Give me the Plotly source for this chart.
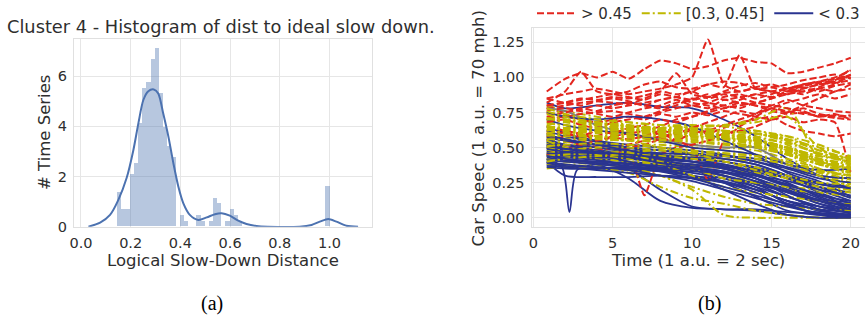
import plotly.graph_objects as go

# ---------------- panel (a): histogram + KDE ----------------
HIST_BIN_START = 0.146
HIST_BIN_WIDTH = 0.01675
HIST_DENSITY = [1.38, 0.69, 0.69, 2.07, 2.52, 4.12, 5.51, 5.74, 6.67, 7.12,
                5.30, 3.95, 3.21, 2.75, 0.0, 0.46, 0.23, 0.0, 0.0, 0.46,
                0.23, 0.0, 0.23, 1.15, 0.92, 0.0, 0.23, 0.69, 0.46, 0.23,
                0.0, 0.0, 0.0, 0.0, 0.0, 0.0, 0.0, 0.0, 0.0, 0.0,
                0.0, 0.0, 0.0, 0.0, 0.0, 0.0, 0.0, 0.0, 0.0, 0.0, 1.61]
KDE_X = [0.03, 0.077, 0.117, 0.15, 0.184, 0.211, 0.231, 0.251, 0.271, 0.293, 0.311,
         0.331, 0.352, 0.372, 0.392, 0.412, 0.438, 0.472, 0.506, 0.539, 0.566, 0.599,
         0.633, 0.666, 0.706, 0.75, 0.88, 0.928, 0.961, 0.995, 1.028, 1.068, 1.115]
KDE_Y = [0.0, 0.16, 0.47, 1.06, 1.95, 3.06, 4.12, 5.05, 5.40, 5.47, 5.31,
         4.51, 3.58, 2.52, 1.59, 0.93, 0.47, 0.27, 0.37, 0.50, 0.54, 0.44,
         0.24, 0.11, 0.03, 0.0, 0.0, 0.07, 0.20, 0.31, 0.20, 0.04, 0.0]
A_XTICKS = [0.0, 0.2, 0.4, 0.6, 0.8, 1.0]
A_XTICKTEXT = ["0.0", "0.2", "0.4", "0.6", "0.8", "1.0"]
A_YTICKS = [0, 2, 4, 6]

# ---------------- panel (b): speed time series ----------------
T_RED = [0.84, 2, 3, 4, 5, 6, 7, 8, 9, 10, 11, 12, 13, 14, 15, 16, 17, 18, 19, 20]
RED_SERIES = [
    [0.90, 0.99, 1.03, 1.00, 1.04, 0.99, 1.06, 1.12, 1.10, 1.06, 1.08, 1.12, 1.14, 1.11, 1.10, 1.03, 1.04, 1.07, 1.10, 1.14],
    [0.85, 0.88, 0.90, 0.92, 0.90, 0.88, 0.90, 0.92, 0.95, 1.00, 1.27, 0.95, 0.90, 0.93, 0.95, 0.92, 0.95, 0.97, 1.00, 1.05],
    [0.80, 0.82, 0.85, 0.84, 0.86, 0.85, 0.87, 0.90, 0.88, 0.90, 0.95, 0.93, 1.16, 0.92, 0.93, 0.90, 0.92, 0.95, 0.97, 1.00],
    [0.78, 0.80, 0.82, 0.83, 0.82, 0.81, 0.85, 0.90, 1.03, 0.88, 0.86, 0.89, 0.90, 0.92, 0.90, 0.88, 0.92, 0.95, 0.96, 0.98],
    [0.82, 0.90, 1.04, 0.90, 0.88, 0.90, 0.95, 0.97, 0.93, 0.92, 0.95, 0.97, 0.96, 0.92, 0.90, 0.92, 0.95, 0.97, 0.99, 1.00],
    [0.78, 0.75, 0.77, 0.80, 0.78, 0.80, 0.82, 0.84, 0.86, 0.82, 0.80, 0.78, 0.82, 0.80, 0.76, 0.74, 0.75, 0.72, 0.73, 0.72],
    [0.75, 0.72, 0.74, 0.75, 0.76, 0.74, 0.72, 0.75, 0.78, 0.80, 0.78, 0.84, 0.82, 0.80, 0.78, 0.75, 0.78, 0.74, 0.72, 0.73],
    [0.80, 0.82, 0.80, 0.83, 0.85, 0.83, 0.80, 0.84, 0.86, 0.90, 0.85, 0.88, 0.86, 0.82, 0.85, 0.90, 0.88, 0.92, 0.90, 0.95],
    [0.72, 0.75, 0.78, 0.76, 0.80, 0.82, 0.80, 0.78, 0.82, 0.84, 0.88, 0.84, 0.86, 0.88, 0.90, 0.92, 0.93, 0.90, 0.94, 0.96],
    [0.70, 0.72, 0.70, 0.68, 0.70, 0.72, 0.70, 0.74, 0.72, 0.75, 0.73, 0.76, 0.74, 0.72, 0.70, 0.72, 0.68, 0.70, 0.68, 0.32],
    [0.60, 0.62, 0.55, 0.50, 0.52, 0.48, 0.16, 0.45, 0.50, 0.52, 0.55, 0.60, 0.62, 0.65, 0.70, 0.75, 0.80, 0.85, 0.90, 0.92],
    [0.65, 0.62, 0.60, 0.58, 0.62, 0.60, 0.58, 0.60, 0.55, 0.50, 0.27, 0.55, 0.65, 0.72, 0.78, 0.82, 0.85, 0.88, 0.85, 0.88],
    [0.55, 0.58, 0.60, 0.55, 0.58, 0.60, 0.62, 0.65, 0.70, 0.72, 0.75, 0.78, 0.80, 0.82, 0.85, 0.88, 0.90, 0.92, 0.95, 1.02],
    [0.68, 0.70, 0.66, 0.64, 0.68, 0.70, 0.72, 0.76, 0.80, 0.85, 0.82, 0.80, 0.84, 0.88, 0.86, 0.90, 0.94, 0.96, 0.98, 1.06],
    [0.50, 0.52, 0.50, 0.48, 0.50, 0.52, 0.55, 0.58, 0.60, 0.62, 0.60, 0.64, 0.68, 0.70, 0.72, 0.66, 0.62, 0.60, 0.58, 0.60],
    [0.62, 0.60, 0.58, 0.62, 0.60, 0.64, 0.66, 0.70, 0.68, 0.72, 0.76, 0.80, 0.78, 0.82, 0.80, 0.84, 0.80, 0.78, 0.76, 0.75],
    [0.85, 0.82, 0.84, 0.86, 0.88, 0.86, 0.84, 0.88, 0.86, 0.84, 0.86, 0.90, 0.94, 0.96, 0.93, 0.95, 0.98, 1.00, 1.02, 0.99],
    [0.45, 0.50, 0.48, 0.46, 0.44, 0.50, 0.52, 0.56, 0.55, 0.60, 0.62, 0.66, 0.70, 0.74, 0.80, 0.78, 0.76, 0.72, 0.74, 0.70],
    [0.76, 0.78, 0.76, 0.74, 0.72, 0.75, 0.78, 0.80, 0.84, 0.80, 0.82, 0.86, 0.88, 0.85, 0.88, 0.92, 0.90, 0.93, 0.98, 1.02],
    [0.58, 0.55, 0.52, 0.55, 0.57, 0.56, 0.58, 0.62, 0.60, 0.64, 0.68, 0.72, 0.76, 0.74, 0.78, 0.76, 0.74, 0.73, 0.71, 0.70],
]

T_COARSE = [0.84, 2, 4, 6, 8, 10, 12, 14, 16, 18, 20]
YELLOW_SERIES = [
    [0.80, 0.76, 0.72, 0.68, 0.66, 0.64, 0.62, 0.60, 0.55, 0.45, 0.40],
    [0.75, 0.73, 0.70, 0.66, 0.62, 0.60, 0.58, 0.55, 0.50, 0.42, 0.38],
    [0.72, 0.70, 0.66, 0.64, 0.63, 0.62, 0.60, 0.58, 0.52, 0.40, 0.35],
    [0.70, 0.68, 0.65, 0.62, 0.60, 0.58, 0.55, 0.50, 0.45, 0.38, 0.32],
    [0.68, 0.66, 0.62, 0.60, 0.60, 0.60, 0.60, 0.62, 0.56, 0.48, 0.42],
    [0.65, 0.64, 0.62, 0.61, 0.60, 0.58, 0.56, 0.52, 0.45, 0.35, 0.30],
    [0.62, 0.62, 0.60, 0.58, 0.57, 0.56, 0.55, 0.55, 0.50, 0.42, 0.36],
    [0.60, 0.58, 0.56, 0.55, 0.54, 0.52, 0.50, 0.48, 0.42, 0.35, 0.28],
    [0.58, 0.56, 0.55, 0.56, 0.58, 0.58, 0.56, 0.52, 0.46, 0.38, 0.33],
    [0.55, 0.55, 0.53, 0.52, 0.52, 0.50, 0.48, 0.45, 0.40, 0.32, 0.25],
    [0.52, 0.52, 0.50, 0.48, 0.46, 0.44, 0.42, 0.40, 0.35, 0.30, 0.24],
    [0.50, 0.50, 0.48, 0.46, 0.45, 0.45, 0.45, 0.42, 0.38, 0.33, 0.30],
    [0.48, 0.46, 0.45, 0.42, 0.40, 0.38, 0.35, 0.32, 0.28, 0.24, 0.20],
    [0.45, 0.44, 0.42, 0.40, 0.38, 0.34, 0.30, 0.25, 0.20, 0.18, 0.15],
    [0.42, 0.40, 0.38, 0.36, 0.30, 0.22, 0.15, 0.10, 0.08, 0.06, 0.05],
    [0.38, 0.38, 0.36, 0.34, 0.30, 0.20, 0.02, 0.00, 0.00, 0.00, 0.00],
    [0.35, 0.36, 0.35, 0.32, 0.22, 0.14, 0.10, 0.05, 0.02, 0.00, 0.00],
    [0.60, 0.60, 0.62, 0.60, 0.62, 0.64, 0.66, 0.70, 0.78, 0.42, 0.30],
    [0.65, 0.64, 0.63, 0.62, 0.64, 0.65, 0.66, 0.68, 0.72, 0.50, 0.38],
    [0.78, 0.74, 0.70, 0.68, 0.66, 0.66, 0.65, 0.62, 0.58, 0.48, 0.42],
    [0.57, 0.60, 0.62, 0.62, 0.60, 0.60, 0.58, 0.56, 0.50, 0.44, 0.40],
    [0.63, 0.60, 0.58, 0.60, 0.62, 0.62, 0.60, 0.56, 0.48, 0.40, 0.35],
    [0.53, 0.54, 0.56, 0.55, 0.55, 0.54, 0.52, 0.50, 0.45, 0.38, 0.32],
    [0.46, 0.48, 0.50, 0.50, 0.48, 0.46, 0.44, 0.42, 0.38, 0.30, 0.22],
    [0.67, 0.66, 0.64, 0.63, 0.62, 0.60, 0.57, 0.53, 0.47, 0.40, 0.36],
    [0.74, 0.70, 0.66, 0.63, 0.61, 0.59, 0.57, 0.55, 0.50, 0.44, 0.43],
    [0.50, 0.48, 0.45, 0.42, 0.38, 0.30, 0.22, 0.18, 0.15, 0.12, 0.10],
    [0.55, 0.50, 0.47, 0.45, 0.40, 0.35, 0.28, 0.25, 0.22, 0.20, 0.18],
    [0.44, 0.45, 0.46, 0.47, 0.48, 0.47, 0.46, 0.44, 0.40, 0.34, 0.30],
    [0.60, 0.62, 0.64, 0.64, 0.63, 0.62, 0.61, 0.60, 0.54, 0.46, 0.42],
    [0.70, 0.70, 0.68, 0.66, 0.64, 0.63, 0.62, 0.60, 0.56, 0.50, 0.44],
    [0.56, 0.56, 0.57, 0.58, 0.59, 0.58, 0.57, 0.54, 0.48, 0.40, 0.35],
    [0.66, 0.62, 0.58, 0.55, 0.50, 0.46, 0.40, 0.34, 0.28, 0.22, 0.20],
    [0.40, 0.42, 0.44, 0.45, 0.44, 0.42, 0.40, 0.36, 0.30, 0.25, 0.24],
    [0.62, 0.64, 0.66, 0.65, 0.64, 0.64, 0.62, 0.60, 0.58, 0.52, 0.43],
    [0.71, 0.69, 0.67, 0.65, 0.64, 0.62, 0.59, 0.56, 0.50, 0.42, 0.39],
    [0.64, 0.63, 0.61, 0.59, 0.58, 0.57, 0.56, 0.54, 0.49, 0.41, 0.37],
    [0.59, 0.58, 0.58, 0.57, 0.56, 0.55, 0.53, 0.51, 0.46, 0.39, 0.34],
    [0.76, 0.72, 0.68, 0.65, 0.63, 0.61, 0.59, 0.57, 0.53, 0.46, 0.41],
    [0.51, 0.52, 0.53, 0.52, 0.50, 0.48, 0.46, 0.44, 0.40, 0.33, 0.27],
]
BLUE_SERIES = [
    [0.82, 0.78, 0.80, 0.82, 0.79, 0.78, 0.70, 0.58, 0.42, 0.30, 0.20],
    [0.40, 0.30, 0.29, 0.29, 0.30, 0.29, 0.28, 0.20, 0.12, 0.05, 0.02],
    [0.45, 0.42, 0.38, 0.28, 0.12, 0.07, 0.06, 0.06, 0.04, 0.03, 0.02],
    [0.50, 0.45, 0.42, 0.35, 0.20, 0.08, 0.06, 0.05, 0.02, 0.00, 0.00],
    [0.55, 0.50, 0.48, 0.45, 0.42, 0.35, 0.25, 0.15, 0.05, 0.02, 0.00],
    [0.60, 0.55, 0.52, 0.50, 0.48, 0.45, 0.42, 0.38, 0.30, 0.20, 0.12],
    [0.58, 0.55, 0.50, 0.47, 0.45, 0.42, 0.38, 0.32, 0.22, 0.12, 0.05],
    [0.52, 0.50, 0.48, 0.46, 0.44, 0.42, 0.40, 0.35, 0.28, 0.18, 0.10],
    [0.48, 0.46, 0.45, 0.43, 0.41, 0.40, 0.38, 0.33, 0.25, 0.15, 0.08],
    [0.45, 0.44, 0.42, 0.40, 0.38, 0.36, 0.33, 0.28, 0.20, 0.10, 0.04],
    [0.42, 0.40, 0.40, 0.39, 0.38, 0.37, 0.35, 0.30, 0.22, 0.14, 0.06],
    [0.38, 0.36, 0.35, 0.34, 0.33, 0.30, 0.26, 0.20, 0.12, 0.05, 0.02],
    [0.65, 0.60, 0.55, 0.52, 0.50, 0.48, 0.45, 0.40, 0.35, 0.28, 0.25],
    [0.70, 0.66, 0.62, 0.60, 0.55, 0.50, 0.48, 0.45, 0.38, 0.34, 0.35],
    [0.75, 0.72, 0.70, 0.72, 0.70, 0.65, 0.55, 0.45, 0.32, 0.25, 0.22],
    [0.56, 0.52, 0.48, 0.45, 0.40, 0.35, 0.30, 0.24, 0.18, 0.10, 0.06],
    [0.44, 0.43, 0.41, 0.38, 0.36, 0.34, 0.30, 0.22, 0.10, 0.02, 0.00],
    [0.47, 0.46, 0.44, 0.42, 0.40, 0.38, 0.36, 0.34, 0.28, 0.22, 0.18],
    [0.53, 0.52, 0.50, 0.48, 0.46, 0.45, 0.44, 0.40, 0.33, 0.26, 0.15],
    [0.62, 0.58, 0.54, 0.50, 0.45, 0.40, 0.35, 0.28, 0.20, 0.12, 0.08],
    [0.40, 0.38, 0.36, 0.34, 0.30, 0.26, 0.20, 0.14, 0.08, 0.04, 0.10],
    [0.36, 0.35, 0.35, 0.36, 0.35, 0.34, 0.30, 0.24, 0.15, 0.08, 0.03],
    [0.57, 0.55, 0.52, 0.50, 0.48, 0.46, 0.44, 0.42, 0.36, 0.30, 0.28],
    [0.50, 0.48, 0.45, 0.40, 0.35, 0.30, 0.20, 0.10, 0.02, 0.00, 0.00],
    [0.43, 0.41, 0.39, 0.37, 0.35, 0.32, 0.28, 0.22, 0.15, 0.08, 0.03],
    [0.46, 0.45, 0.43, 0.42, 0.40, 0.38, 0.35, 0.30, 0.24, 0.16, 0.12],
    [0.54, 0.50, 0.47, 0.44, 0.42, 0.40, 0.36, 0.28, 0.16, 0.06, 0.01],
    [0.39, 0.37, 0.36, 0.35, 0.34, 0.33, 0.32, 0.30, 0.26, 0.20, 0.16],
    [0.49, 0.47, 0.46, 0.45, 0.44, 0.43, 0.42, 0.38, 0.30, 0.22, 0.14],
    [0.41, 0.40, 0.38, 0.36, 0.33, 0.28, 0.22, 0.16, 0.10, 0.06, 0.04],
    [0.52, 0.49, 0.46, 0.43, 0.39, 0.36, 0.33, 0.26, 0.18, 0.12, 0.09],
    [0.37, 0.36, 0.34, 0.32, 0.30, 0.28, 0.25, 0.18, 0.09, 0.03, 0.01],
    [0.59, 0.56, 0.52, 0.48, 0.44, 0.42, 0.40, 0.36, 0.30, 0.24, 0.21],
    [0.44, 0.42, 0.40, 0.38, 0.37, 0.35, 0.32, 0.26, 0.19, 0.13, 0.11],
    [0.51, 0.49, 0.47, 0.45, 0.43, 0.40, 0.37, 0.31, 0.23, 0.17, 0.07],
]
BLUE_DIP_T = [0.84, 1.8, 2.27, 2.75, 4, 6, 8, 10, 12, 14, 16, 18, 20]
BLUE_DIP_Y = [0.42, 0.36, 0.04, 0.34, 0.38, 0.36, 0.34, 0.30, 0.25, 0.20, 0.12, 0.08, 0.05]
GRAY_SERIES = [
    [0.78, 0.76, 0.66, 0.60, 0.56, 0.52, 0.50, 0.50, 0.38, 0.30, 0.28],
]
B_XTICKS = [0, 5, 10, 15, 20]
B_YTICKS = [0.0, 0.25, 0.5, 0.75, 1.0, 1.25]
B_YTICKTEXT = ["0.00", "0.25", "0.50", "0.75", "1.00", "1.25"]
LEGEND_LABELS = ["> 0.45", "[0.3, 0.45]", "< 0.3"]

# ---------------- styling ----------------
W, H = 865, 321
TXT = "#2e2e2e"
GRID = "#e6e6e6"
FRAME = "#e0e0e0"
RED, YEL, BLU, GRY = "#e3261f", "#bfb800", "#2a3490", "#7f7f7f"
FONT = "DejaVu Sans"


def fx(p):
    return p / W


def fy(p):
    return 1 - p / H


fig = go.Figure()

# panel (a)
bin_centers = [HIST_BIN_START + (i + 0.5) * HIST_BIN_WIDTH for i in range(len(HIST_DENSITY))]
fig.add_trace(go.Bar(x=bin_centers, y=HIST_DENSITY, width=HIST_BIN_WIDTH,
                     marker=dict(color="rgba(76,114,176,0.4)", line=dict(width=0)),
                     showlegend=False, xaxis="x", yaxis="y", hoverinfo="skip"))
fig.add_trace(go.Scatter(x=KDE_X, y=KDE_Y, mode="lines",
                         line=dict(color="#4c72b0", width=2, shape="spline", smoothing=0.8),
                         showlegend=False, xaxis="x", yaxis="y"))

# panel (b)
RED_DASH = "7px,3px"
YEL_DASH = "8px,3px,2px,3px"
n = max(len(RED_SERIES), len(YELLOW_SERIES), len(BLUE_SERIES))
for i in range(n):
    if i < len(YELLOW_SERIES):
        fig.add_trace(go.Scatter(x=T_COARSE, y=YELLOW_SERIES[i], mode="lines",
                                 line=dict(color=YEL, width=2, dash=YEL_DASH, shape="spline", smoothing=0.8),
                                 name=LEGEND_LABELS[1], legendgroup="y", legendrank=2,
                                 showlegend=(i == 0), xaxis="x2", yaxis="y2"))
    if i < len(BLUE_SERIES):
        fig.add_trace(go.Scatter(x=T_COARSE, y=BLUE_SERIES[i], mode="lines",
                                 line=dict(color=BLU, width=1.8, shape="spline", smoothing=0.8),
                                 name=LEGEND_LABELS[2], legendgroup="b", legendrank=3,
                                 showlegend=(i == 0), xaxis="x2", yaxis="y2"))
    if i == 8:
        fig.add_trace(go.Scatter(x=BLUE_DIP_T, y=BLUE_DIP_Y, mode="lines",
                                 line=dict(color=BLU, width=1.8, shape="spline", smoothing=0.8),
                                 name=LEGEND_LABELS[2], legendgroup="b", showlegend=False,
                                 xaxis="x2", yaxis="y2"))
        for g in GRAY_SERIES:
            fig.add_trace(go.Scatter(x=T_COARSE, y=g, mode="lines",
                                     line=dict(color=GRY, width=2, shape="spline", smoothing=0.8),
                                     showlegend=False, xaxis="x2", yaxis="y2"))
    if i < len(RED_SERIES):
        fig.add_trace(go.Scatter(x=T_RED, y=RED_SERIES[i], mode="lines",
                                 line=dict(color=RED, width=2, dash=RED_DASH, shape="spline", smoothing=0.5),
                                 name=LEGEND_LABELS[0], legendgroup="r", legendrank=1,
                                 showlegend=(i == 0), xaxis="x2", yaxis="y2"))

axis_common = dict(showgrid=True, gridcolor=GRID, gridwidth=1.2, zeroline=False,
                   showline=True, linecolor=FRAME, linewidth=1.2, automargin=False,
                   ticks="outside", ticklen=3, tickcolor="rgba(0,0,0,0)",
                   tickfont=dict(family=FONT, size=14.5, color=TXT))

y_bot = fy(226.7)
fig.update_layout(
    width=W, height=H, margin=dict(l=0, r=0, t=0, b=0, autoexpand=False),
    paper_bgcolor="white", plot_bgcolor="white",
    bargap=0,
    font=dict(family=FONT, color=TXT),
    xaxis=dict(domain=[fx(74), fx(372)], range=[-0.028, 1.171], tickvals=A_XTICKS,
               ticktext=A_XTICKTEXT, anchor="y", mirror=True, **axis_common),
    yaxis=dict(domain=[y_bot, fy(39.3)], range=[0, 7.47], tickvals=A_YTICKS,
               anchor="x", mirror=True, **axis_common),
    xaxis2=dict(domain=[fx(531.5), 1.0], range=[-0.12, 20.9], tickvals=B_XTICKS,
                anchor="y2", mirror=True, **axis_common),
    yaxis2=dict(domain=[y_bot, fy(28.3)], range=[-0.064, 1.35], tickvals=B_YTICKS,
                ticktext=B_YTICKTEXT, anchor="x2", **axis_common),
    legend=dict(orientation="h", x=1.0, xanchor="right", y=1.0 + 3 / H, yanchor="top",
                font=dict(family=FONT, size=15, color=TXT), bgcolor="rgba(0,0,0,0)",
                itemwidth=39, traceorder="normal"),
)

annotations = [
    dict(text="Cluster 4 - Histogram of dist to ideal slow down.", x=fx(221), y=fy(26.5),
         font=dict(family=FONT, size=17.8, color=TXT)),
    dict(text="# Time Series", x=fx(45), y=fy(133), textangle=-90,
         font=dict(family=FONT, size=16.5, color=TXT)),
    dict(text="Logical Slow-Down Distance", x=fx(223), y=fy(260),
         font=dict(family=FONT, size=16.5, color=TXT)),
    dict(text="Car Speec (1 a.u. = 70 mph)", x=fx(478), y=fy(128.5), textangle=-90,
         font=dict(family=FONT, size=16.5, color=TXT)),
    dict(text="Time (1 a.u. = 2 sec)", x=fx(698), y=fy(260),
         font=dict(family=FONT, size=16.5, color=TXT)),
    dict(text="(a)", x=fx(212), y=fy(303),
         font=dict(family="Liberation Serif", size=20, color="black")),
    dict(text="(b)", x=fx(709), y=fy(303),
         font=dict(family="Liberation Serif", size=20, color="black")),
]
for a in annotations:
    fig.add_annotation(xref="paper", yref="paper", showarrow=False,
                       xanchor="center", yanchor="middle", **a)

fig.write_html("out.html", config={"displayModeBar": False},
               post_script="document.body.style.margin='0px';document.body.style.overflow='hidden';")
